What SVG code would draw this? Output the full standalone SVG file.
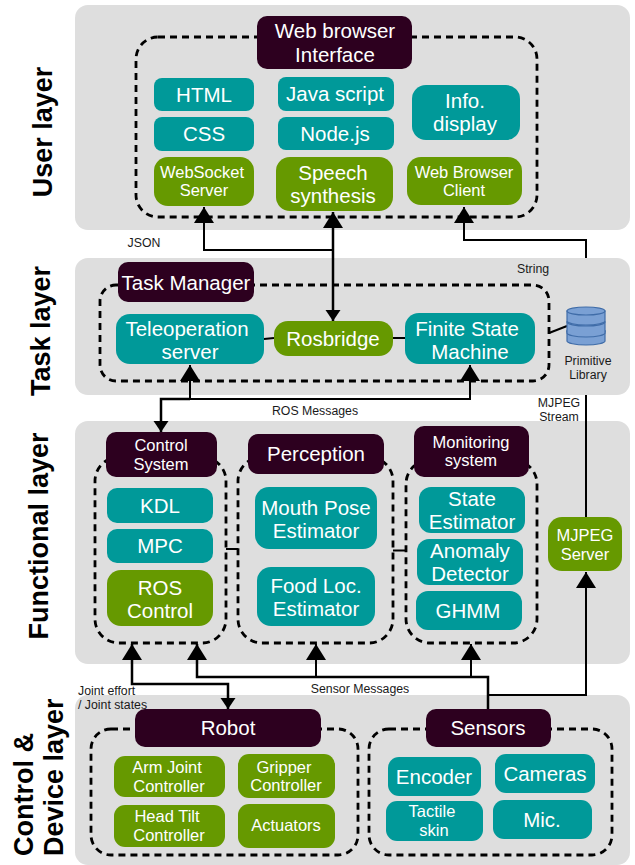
<svg xmlns="http://www.w3.org/2000/svg" width="635" height="865" viewBox="0 0 635 865">
<style>
text{font-family:"Liberation Sans",Arial,sans-serif;text-anchor:middle}
.panel{fill:#dedede}
.dash{fill:none;stroke:#000;stroke-width:2.8;stroke-dasharray:7 5}
.dark{fill:#2d001f}
.teal{fill:#009999}
.green{fill:#669900}
.w{fill:#fff;font-size:20.5px}
.w16{fill:#fff;font-size:16.5px}
.lab{fill:#1a1a1a;font-size:12.3px}
.layer{fill:#000;font-size:27px;font-weight:bold}
.c{fill:none;stroke:#000;stroke-width:2}
.c3{fill:none;stroke:#000;stroke-width:2.5}
.disc{fill:#7aa0d4;stroke:#3f6ca8;stroke-width:1.2}
</style>
<defs>
<marker id="big" markerUnits="userSpaceOnUse" markerWidth="20" markerHeight="20" refX="16" refY="10" orient="auto-start-reverse"><path d="M0 0L16 10L0 20z" fill="#000"/></marker>
<marker id="small" markerUnits="userSpaceOnUse" markerWidth="12" markerHeight="16" refX="11" refY="7.5" orient="auto-start-reverse"><path d="M0 0L11 7.5L0 15z" fill="#000"/></marker>
</defs>
<g id="layers">
<rect class="panel" x="75" y="5" width="555" height="225" rx="13"/>
<rect class="panel" x="75" y="258" width="555" height="137" rx="13"/>
<rect class="panel" x="75" y="421" width="555" height="243" rx="13"/>
<rect class="panel" x="75" y="695" width="555" height="170" rx="13"/>
<text class="layer" transform="translate(52,132) rotate(-90)">User layer</text>
<text class="layer" transform="translate(50,331) rotate(-90)">Task layer</text>
<text class="layer" transform="translate(48,536) rotate(-90)">Functional layer</text>
<text class="layer" transform="translate(33,856) rotate(-90)" style="text-anchor:start">Control &amp;</text>
<text class="layer" transform="translate(63,856) rotate(-90)" style="text-anchor:start">Device layer</text>
</g>
<g id="containers">
<rect class="dash" x="136" y="37" width="401" height="180" rx="22"/>
<rect class="dash" x="100" y="285" width="449" height="96" rx="16"/>
<rect class="dash" x="95" y="457" width="131" height="186" rx="24"/>
<rect class="dash" x="238" y="457" width="155" height="186" rx="24"/>
<rect class="dash" x="406" y="460" width="131" height="183" rx="24"/>
<rect class="dash" x="91" y="729" width="267" height="126" rx="20"/>
<rect class="dash" x="369" y="729" width="243" height="126" rx="20"/>
</g>
<g id="connectors">
<polyline class="c" points="333,250 204,250 204,207" marker-end="url(#big)"/>
<polyline class="c3" points="333,212 333,321" marker-start="url(#big)" marker-end="url(#small)"/>
<polyline class="c" points="586,258 586,240 464,240 464,207" marker-end="url(#big)"/>
<line class="c" x1="549" y1="333" x2="567" y2="326"/>
<line class="c" x1="264" y1="339" x2="274" y2="338"/>
<line class="c" x1="393" y1="338" x2="405" y2="338"/>
<polyline class="c" points="470,365 470,399 190,399 190,365" marker-start="url(#big)" marker-end="url(#big)"/>
<polyline class="c3" points="190,399 161,399 161,432" marker-end="url(#small)"/>
<line class="c" x1="586" y1="395" x2="586" y2="517"/>
<line class="c" x1="226" y1="549" x2="238" y2="549"/>
<line class="c" x1="393" y1="550.500" x2="406" y2="550.500"/>
<polyline class="c" points="489,695 586,695 586,572" marker-end="url(#big)"/>
<polyline class="c3" points="488,709 488,677 197,677 197,644" marker-end="url(#big)"/>
<line class="c" x1="316" y1="677" x2="316" y2="644" marker-end="url(#big)"/>
<polyline class="c" points="471,677 471,644" marker-end="url(#big)"/>
<polyline class="c3" points="132,644 132,684 228,684 228,709" marker-start="url(#big)" marker-end="url(#small)"/>
</g>
<g id="labels">
<text class="lab" x="144" y="247">JSON</text>
<text class="lab" x="533" y="273">String</text>
<text class="lab" x="315" y="415">ROS Messages</text>
<text class="lab" x="559" y="407">MJPEG</text>
<text class="lab" x="559" y="421">Stream</text>
<text class="lab" x="78" y="695" style="text-anchor:start">Joint effort</text>
<text class="lab" x="78" y="709" style="text-anchor:start">/ Joint states</text>
<text class="lab" x="360" y="693">Sensor Messages</text>
</g>
<g id="web-browser"><rect class="dark" x="257" y="16" width="155" height="53" rx="10"/><text class="w" x="335" y="38">Web browser</text><text class="w" x="335" y="62">Interface</text></g>
<g id="html"><rect class="teal" x="154" y="78" width="100" height="33" rx="8"/><text class="w" x="204" y="102">HTML</text></g>
<g id="css"><rect class="teal" x="154" y="117" width="100" height="34" rx="8"/><text class="w" x="204" y="141">CSS</text></g>
<g id="websocket"><rect class="green" x="154" y="157" width="100" height="49" rx="14"/><text class="w16" x="202" y="178">WebSocket</text><text class="w16" x="204" y="196">Server</text></g>
<g id="javascript"><rect class="teal" x="278" y="77" width="116" height="34" rx="8"/><text class="w" x="335" y="101">Java script</text></g>
<g id="nodejs"><rect class="teal" x="278" y="117" width="116" height="33" rx="8"/><text class="w" x="335" y="141">Node.js</text></g>
<g id="speech"><rect class="green" x="276" y="157" width="117" height="54" rx="14"/><text class="w" x="333" y="180">Speech</text><text class="w" x="333" y="203">synthesis</text></g>
<g id="info"><rect class="teal" x="412" y="85" width="108" height="55" rx="14"/><text class="w" x="465" y="108">Info.</text><text class="w" x="465" y="131">display</text></g>
<g id="web-client"><rect class="green" x="407" y="157" width="115" height="48" rx="14"/><text class="w16" x="464" y="178">Web Browser</text><text class="w16" x="464" y="196">Client</text></g>
<g id="task-manager"><rect class="dark" x="118" y="262" width="136" height="40" rx="10"/><text class="w" x="186" y="290">Task Manager</text></g>
<g id="teleop"><rect class="teal" x="116" y="314" width="148" height="50" rx="14"/><text class="w" x="187" y="336">Teleoperation</text><text class="w" x="190" y="359">server</text></g>
<g id="rosbridge"><rect class="green" x="274" y="321" width="119" height="35" rx="14"/><text class="w" x="333" y="346">Rosbridge</text></g>
<g id="fsm"><rect class="teal" x="405" y="313" width="130" height="51" rx="14"/><text class="w" x="467" y="336">Finite State</text><text class="w" x="470" y="359">Machine</text></g>
<g id="library">
<path class="disc" d="M567 331v10c0 2 8 4 19 4s19-2 19-4v-10z"/>
<ellipse class="disc" cx="586" cy="331" rx="19" ry="4"/>
<path class="disc" d="M567 322v11c0 2 8 4 19 4s19-2 19-4v-11z"/>
<ellipse class="disc" cx="586" cy="322" rx="19" ry="4"/>
<path class="disc" d="M567 311v10c0 2 8 4 19 4s19-2 19-4v-10z"/>
<ellipse class="disc" cx="586" cy="311" rx="19" ry="4"/>
<text class="lab" x="588" y="365">Primitive</text><text class="lab" x="588" y="379">Library</text>
</g>
<g id="control-system"><rect class="dark" x="106" y="432" width="111" height="45" rx="10"/><text class="w16" x="161" y="451">Control</text><text class="w16" x="161" y="470">System</text></g>
<g id="kdl"><rect class="teal" x="107" y="488" width="106" height="35" rx="10"/><text class="w" x="160" y="513">KDL</text></g>
<g id="mpc"><rect class="teal" x="107" y="529" width="106" height="34" rx="10"/><text class="w" x="160" y="553">MPC</text></g>
<g id="ros-control"><rect class="green" x="107" y="570" width="106" height="56" rx="14"/><text class="w" x="160" y="595">ROS</text><text class="w" x="160" y="618">Control</text></g>
<g id="perception"><rect class="dark" x="248" y="434" width="136" height="40" rx="10"/><text class="w" x="316" y="461">Perception</text></g>
<g id="mouth"><rect class="teal" x="255" y="487" width="122" height="62" rx="14"/><text class="w" x="316" y="515">Mouth Pose</text><text class="w" x="316" y="538">Estimator</text></g>
<g id="food"><rect class="teal" x="257" y="567" width="118" height="59" rx="14"/><text class="w" x="316" y="593">Food Loc.</text><text class="w" x="316" y="616">Estimator</text></g>
<g id="monitoring"><rect class="dark" x="414" y="426" width="115" height="51" rx="10"/><text class="w16" x="471" y="448">Monitoring</text><text class="w16" x="471" y="466">system</text></g>
<g id="state"><rect class="teal" x="419" y="487" width="106" height="46" rx="12"/><text class="w" x="472" y="506">State</text><text class="w" x="472" y="529">Estimator</text></g>
<g id="anomaly"><rect class="teal" x="417" y="539" width="106" height="46" rx="12"/><text class="w" x="470" y="558">Anomaly</text><text class="w" x="470" y="581">Detector</text></g>
<g id="ghmm"><rect class="teal" x="416" y="591" width="106" height="39" rx="12"/><text class="w" x="468" y="618">GHMM</text></g>
<g id="mjpeg"><rect class="green" x="548" y="517" width="74" height="54" rx="14"/><text class="w16" x="585" y="541">MJPEG</text><text class="w16" x="585" y="560">Server</text></g>
<g id="robot"><rect class="dark" x="135" y="709" width="186" height="38" rx="10"/><text class="w" x="228" y="735">Robot</text></g>
<g id="arm"><rect class="green" x="114" y="756" width="111" height="41" rx="11"/><text class="w16" x="167" y="773">Arm Joint</text><text class="w16" x="169" y="792">Controller</text></g>
<g id="gripper"><rect class="green" x="238" y="754" width="97" height="44" rx="11"/><text class="w16" x="284" y="773">Gripper</text><text class="w16" x="286" y="791">Controller</text></g>
<g id="head"><rect class="green" x="114" y="805" width="111" height="42" rx="11"/><text class="w16" x="167" y="822">Head Tilt</text><text class="w16" x="169" y="841">Controller</text></g>
<g id="actuators"><rect class="green" x="238" y="804" width="97" height="44" rx="11"/><text class="w16" x="286" y="831">Actuators</text></g>
<g id="sensors"><rect class="dark" x="426" y="709" width="125" height="38" rx="10"/><text class="w" x="488" y="735">Sensors</text></g>
<g id="encoder"><rect class="teal" x="388" y="757" width="93" height="39" rx="11"/><text class="w" x="434" y="784">Encoder</text></g>
<g id="cameras"><rect class="teal" x="495" y="754" width="100" height="39" rx="11"/><text class="w" x="545" y="781">Cameras</text></g>
<g id="tactile"><rect class="teal" x="386" y="801" width="97" height="40" rx="11"/><text class="w16" x="432" y="817">Tactile</text><text class="w16" x="434" y="836">skin</text></g>
<g id="mic"><rect class="teal" x="493" y="800" width="99" height="39" rx="11"/><text class="w" x="542" y="827">Mic.</text></g>
</svg>
